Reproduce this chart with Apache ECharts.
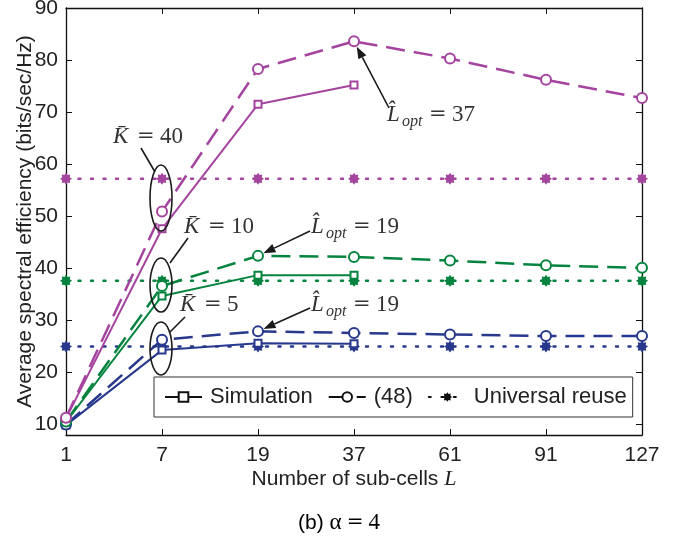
<!DOCTYPE html>
<html><head><meta charset="utf-8">
<script src="https://cdn.jsdelivr.net/npm/echarts@6/dist/echarts.min.js"></script>
<style>html,body{margin:0;padding:0;background:#fff}#c{width:689px;height:538px}</style>
</head><body><div id="c"></div><script>
// ---- data ----
const categories = ['1', '7', '19', '37', '61', '91', '127'];
const yTicks = [10, 20, 30, 40, 50, 60, 70, 80, 90];
const simK40 = [11.2, 47.6, 71.5, 75.2, null, null, null];
const anaK40 = [11.3, 50.9, 78.3, 83.6, 80.3, 76.2, 72.7];
const uniK40 = [57.2, 57.2, 57.2, 57.2, 57.2, 57.2, 57.2];
const simK10 = [10.5, 34.7, 38.7, 38.7, null, null, null];
const anaK10 = [10.6, 36.6, 42.4, 42.2, 41.5, 40.6, 40.1];
const uniK10 = [37.6, 37.6, 37.6, 37.6, 37.6, 37.6, 37.6];
const simK5 = [9.9, 24.3, 25.6, 25.5, null, null, null];
const anaK5 = [10.0, 26.3, 27.9, 27.6, 27.3, 27.0, 27.0];
const uniK5 = [25.0, 25.0, 25.0, 25.0, 25.0, 25.0, 25.0];
const legendNames = ['Simulation', '(48)', 'Universal reuse'];

// ---- styles ----
const MAG = '#a4449f', GRN = '#06843f', BLU = '#27388d';
const SANS = 'Liberation Sans', SERIF = 'Liberation Serif', EQ = 'DejaVu Serif';
function starPath() {
  let d = 'path://';
  for (let i = 0; i < 16; i++) {
    const r = i % 2 === 0 ? 10 : 6.8;
    const a = Math.PI / 8 * i - Math.PI / 2;
    d += (i === 0 ? 'M' : 'L') + (10 + r * Math.cos(a)).toFixed(2) + ' ' + (10 + r * Math.sin(a)).toFixed(2);
  }
  return d + 'Z';
}
const STAR = starPath();
function mk(name, data, color, kind, z) {
  const s = { name: name, type: 'line', data: data, z: z || 2, silent: true, animation: false, connectNulls: false,
    itemStyle: { color: color, borderColor: color, borderWidth: 2 } };
  if (kind === 'sim') {
    s.symbol = 'emptyRect'; s.symbolSize = 7;
    s.lineStyle = { color: color, width: 2, type: 'solid' };
  } else if (kind === 'ana') {
    s.symbol = 'emptyCircle'; s.symbolSize = 10;
    s.lineStyle = { color: color, width: 2.5, type: [19, 9] };
  } else {
    s.symbol = STAR; s.symbolSize = 12; s.symbolKeepAspect = true;
    s.itemStyle = { color: color, borderWidth: 0 };
    s.lineStyle = { color: color, width: 2.5, type: [2, 10.5], cap: 'round' };
  }
  return s;
}
const series = [
  mk('uK5', uniK5, BLU, 'uni', 1), mk('uK10', uniK10, GRN, 'uni', 1), mk('uK40', uniK40, MAG, 'uni', 1),
  mk('sK5', simK5, BLU, 'sim'), mk('aK5', anaK5, BLU, 'ana'),
  mk('sK10', simK10, GRN, 'sim'), mk('aK10', anaK10, GRN, 'ana'),
  mk('sK40', simK40, MAG, 'sim'), mk('aK40', anaK40, MAG, 'ana'),
  mk(legendNames[0], [], '#111', 'sim'), mk(legendNames[1], [], '#111', 'ana'), mk(legendNames[2], [], '#111', 'uni')
];

const axisLine = { show: true, lineStyle: { color: '#111', width: 1.3 } };
const chart = echarts.init(document.getElementById('c'), null, { renderer: 'canvas' });
chart.setOption({
  animation: false,
  backgroundColor: '#fff',
  grid: { left: 66, right: 47, top: 8, bottom: 103, containLabel: false, outerBoundsMode: 'none' },
  xAxis: [
    { type: 'category', data: categories, boundaryGap: false, position: 'bottom',
      axisLine: axisLine, axisTick: { show: true, inside: true, length: 6, lineStyle: { color: '#111' } },
      axisLabel: { color: '#222', fontFamily: SANS, fontSize: 21, margin: 10 },
      splitLine: { show: false },
      name: 'Number of sub-cells {l|L}', nameLocation: 'middle', nameGap: 33, nameMoveOverlap: false,
      nameTextStyle: { color: '#222', fontFamily: SANS, fontSize: 21,
        rich: { l: { fontFamily: SERIF, fontStyle: 'italic', fontSize: 22, color: '#222' } } } },
    { type: 'category', data: categories, boundaryGap: false, position: 'top',
      axisLine: axisLine, axisTick: { show: true, inside: true, length: 6, lineStyle: { color: '#111' } },
      axisLabel: { show: false }, splitLine: { show: false } }
  ],
  yAxis: [
    { type: 'value', min: 8, max: 90, position: 'left',
      axisLine: axisLine,
      axisTick: { show: true, inside: true, length: 6, customValues: yTicks, lineStyle: { color: '#111' } },
      axisLabel: { color: '#222', fontFamily: SANS, fontSize: 21, margin: 8, customValues: yTicks },
      splitLine: { show: false },
      name: 'Average spectral efficiency (bits/sec/Hz)', nameLocation: 'middle', nameGap: 30, nameMoveOverlap: false,
      nameTextStyle: { color: '#222', fontFamily: SANS, fontSize: 21 } },
    { type: 'value', min: 8, max: 90, position: 'right',
      axisLine: axisLine,
      axisTick: { show: true, inside: true, length: 6, customValues: yTicks, lineStyle: { color: '#111' } },
      axisLabel: { show: false }, splitLine: { show: false } }
  ],
  legend: {
    data: legendNames, left: 154, top: 377, orient: 'horizontal',
    backgroundColor: '#fff', borderColor: '#333', borderWidth: 1, borderRadius: 0,
    padding: [9, 6, 9, 10], itemGap: 15, itemWidth: 37, itemHeight: 12,
    textStyle: { color: '#222', fontFamily: SANS, fontSize: 22, padding: [0, 0, 0, 3] }, selectedMode: false
  },
  series: series
});

// ---- annotations ----
function P(i, v) { return chart.convertToPixel({ xAxisIndex: 0, yAxisIndex: 0 }, [i, v]); }
const g = [];
const ink = '#1a1a1a';
function line(a, b) { g.push({ type: 'line', shape: { x1: a[0], y1: a[1], x2: b[0], y2: b[1] }, style: { stroke: ink, lineWidth: 1.6 }, z: 50 }); }
function arrow(a, c, r) {
  const dx = c[0] - a[0], dy = c[1] - a[1], L = Math.hypot(dx, dy);
  const ux = dx / L, uy = dy / L;
  const tip = [c[0] - ux * r, c[1] - uy * r];
  const hl = 12, hw = 4.5;
  const base = [tip[0] - ux * hl, tip[1] - uy * hl];
  line(a, base);
  g.push({ type: 'polygon', shape: { points: [tip, [base[0] - uy * hw, base[1] + ux * hw], [base[0] + uy * hw, base[1] - ux * hw]] }, style: { fill: ink }, z: 50 });
}
function ell(cx, cy, rx, ry) { g.push({ type: 'ellipse', shape: { cx: cx, cy: cy, rx: rx, ry: ry }, style: { fill: null, stroke: ink, lineWidth: 1.6 }, z: 50 }); }
function txt(x, y, s, size, italic, fam) {
  g.push({ type: 'text', x: x, y: y, z: 50, style: { text: s, fontFamily: fam || SERIF, fontStyle: italic ? 'italic' : 'normal', fontSize: size, fill: '#333', verticalAlign: 'middle', align: 'left' } });
}
function ktext(x, y, v) {
  txt(x, y, 'K\u0304', 23, true);
  txt(x + 24, y, '=', 21, false, EQ);
  txt(x + 47, y, v, 23, false);
}
function ltext(x, y, v) {
  txt(x, y, 'L\u0302', 23, true);
  txt(x + 15, y + 7, 'opt', 16, true);
  txt(x + 42, y, '=', 21, false, EQ);
  txt(x + 65, y, v, 23, false);
}
const x7 = P(1, 0)[0] - 1;
ell(x7, P(1, 53.5)[1], 11, 33);
ell(x7, P(1, 36.8)[1], 11, 27);
ell(x7, P(1, 24.6)[1], 11, 26.5);
ktext(113, 137, '40'); line([141, 148], [155, 172]);
ktext(184, 227, '10'); line([188, 238], [170, 263]);
ktext(180, 305, '5'); line([185, 317], [170, 332]);
ltext(311, 227, '19'); arrow([310, 231], P(2, anaK10[2]), 6);
ltext(311, 305, '19'); arrow([310, 308], P(2, anaK5[2]), 6);
ltext(387, 115, '37'); arrow([389, 108], P(3, anaK40[3]), 6);
g.push({ type: 'text', x: 339, y: 523, z: 50, style: { text: '{a|(b) }{b|\u03b1}{c|=}{b|4}', align: 'center', verticalAlign: 'middle',
  rich: { a: { fontFamily: SANS, fontSize: 21, color: '#222' }, b: { fontFamily: SERIF, fontSize: 23, color: '#222' },
          c: { fontFamily: EQ, fontSize: 20, color: '#222', padding: [0, 5, 0, 5] } } } });
chart.setOption({ graphic: g });
</script></body></html>
